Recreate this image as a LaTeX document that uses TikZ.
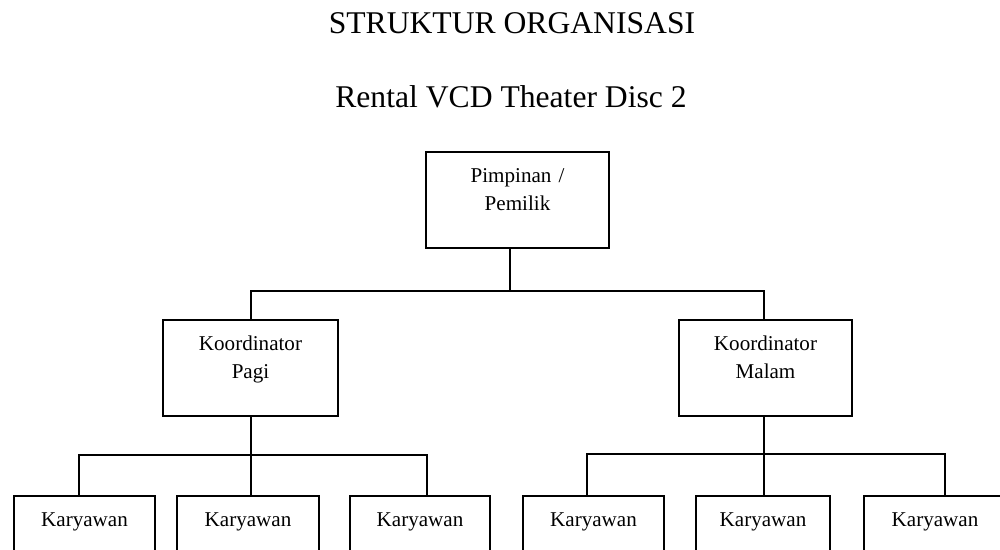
\documentclass[tikz,border=0pt]{standalone}
\usepackage{fontspec}
\setmainfont{Liberation Serif}
\usepackage{tikz}

\tikzset{
  unit/.style={draw, line width=1.1pt, anchor=north, inner sep=0pt, text width=#1,
    align=center, text height=0.61cm, text depth=1.31cm,
    font=\fontsize{12pt}{15.8pt}\selectfont},
  link/.style={line width=1.1pt},
  heading/.style={anchor=base, font=\fontsize{18pt}{22pt}\selectfont}
}

\begin{document}
\begin{tikzpicture}[x=0.02cm, y=-0.02cm]
\useasboundingbox (0, 0) rectangle (1000, 549);
\clip (0, 0) rectangle (1000, 549);

\node[heading] (judul) at (512, 33) {STRUKTUR ORGANISASI};
\node[heading] (subjudul) at (511, 107) {Rental VCD Theater Disc 2};

\node[unit=3.66cm] (pimpinan) at (517.5, 151) {Pimpinan /\\Pemilik};
\node[unit=3.5cm] (pagi) at (250.5, 319) {Koordinator\\Pagi};
\node[unit=3.46cm] (malam) at (765.5, 319) {Koordinator\\Malam};

\node[unit=2.82cm] (k1) at (84.5, 495) {Karyawan};
\node[unit=2.84cm] (k2) at (248, 495) {Karyawan};
\node[unit=2.8cm] (k3) at (420, 495) {Karyawan};
\node[unit=2.82cm] (k4) at (593.5, 495) {Karyawan};
\node[unit=2.68cm] (k5) at (763, 495) {Karyawan};
\node[unit=2.84cm] (k6) at (935, 495) {Karyawan};

\coordinate (bus atas) at (510, 291);
\coordinate (bus pagi) at (251, 455);
\coordinate (bus malam) at (764, 454);

\draw[link] ([xshift=-0.15cm]pimpinan.south) -- (bus atas);
\draw[link] (bus pagi |- pagi.north) |- (bus atas) -| (bus malam |- malam.north);

\draw[link] (bus pagi |- pagi.south) -- (bus pagi);
\draw[link] ([xshift=-0.11cm]k1.north) |- (bus pagi) -| ([xshift=0.14cm]k3.north);
\draw[link] (bus pagi) -- (bus pagi |- k2.north);

\draw[link] (bus malam |- malam.south) -- (bus malam);
\draw[link] ([xshift=-0.13cm]k4.north) |- (bus malam) -| ([xshift=0.2cm]k6.north);
\draw[link] (bus malam) -- (bus malam |- k5.north);
\end{tikzpicture}
\end{document}
